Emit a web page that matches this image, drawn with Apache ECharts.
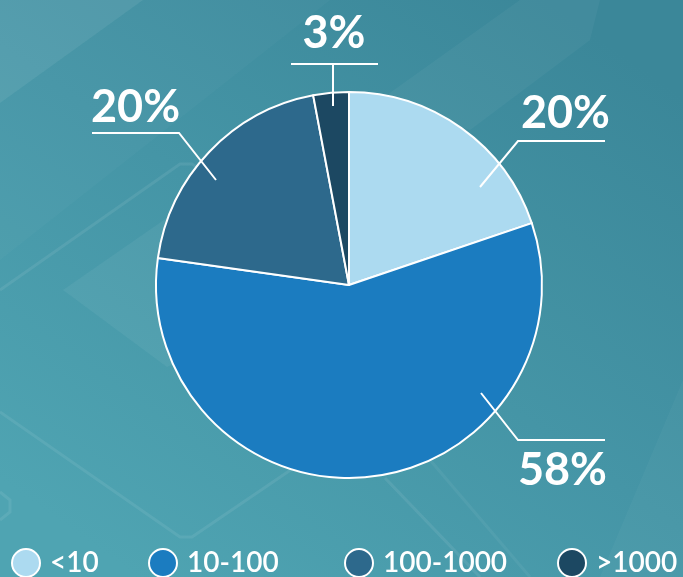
<!DOCTYPE html>
<html>
<head>
<meta charset="utf-8">
<script src="https://cdn.jsdelivr.net/npm/echarts@6/dist/echarts.min.js"></script>
<style>
html,body{margin:0;padding:0;}
#chart{width:683px;height:577px;}
</style>
</head>
<body>
<div id="chart"></div>
<script>
// ---- data ----
const categories = ['<10', '10-100', '100-1000', '>1000'];
const shares = [20, 58, 20, 3];            // percent, as printed on the chart
const sliceColors = ['#acdaf0', '#1b7cc0', '#2d698c', '#1c4862'];

// ---- layout (not data) ----
const CX = 349, CY = 285, R = 193;
// label guide geometry, offsets from pie centre (px)
const guides = [
  { start: [131, -98],  bend: [169, -144], end: [256, -144], text: [261, -149], align: 'right', va: 'bottom' },
  { start: [132, 108],  bend: [169, 155],  end: [256, 155],  text: [258, 163],  align: 'right', va: 'top' },
  { start: [-133, -105], bend: [-170, -152], end: [-257, -152], text: [-258, -155], align: 'left', va: 'bottom' },
  { start: [-16, -179], bend: [-16, -221], end: [-58, -221], end2: [29, -221], text: [-15, -229], align: 'center', va: 'bottom' }
];
const legendLefts = [11, 148, 344, 557];

const chart = echarts.init(document.getElementById('chart'), null, { renderer: 'canvas' });

const pieData = categories.map((c, i) => ({
  name: c,
  value: shares[i],
  itemStyle: { color: sliceColors[i] }
}));

function P(o) { return [CX + o[0], CY + o[1]]; }

const legends = categories.map((c, i) => ({
  data: [c],
  left: legendLefts[i],
  top: 548,
  padding: 0,
  orient: 'horizontal',
  icon: 'circle',
  itemWidth: 28,
  itemHeight: 28,
  itemStyle: { borderColor: '#ffffff', borderWidth: 2 },
  textStyle: { color: '#ffffff', fontSize: 28, fontWeight: 600, fontFamily: 'Lato', padding: [0, 0, 0, 5] },
  selectedMode: false
}));

// label guide lines drawn on top of the slices
const guideLines = guides.map(g => {
  const pts = [P(g.start), P(g.bend), P(g.end)];
  if (g.end2) pts.push(P(g.end2));
  return {
    type: 'polyline', silent: true, z: 100,
    shape: { points: pts },
    style: { stroke: '#ffffff', lineWidth: 2, fill: 'none' }
  };
});

const faint = 'rgba(255,255,255,0.08)';
const decorations = [
  { type: 'polygon', silent: true, z: -10,
    shape: { points: [[0, 0], [143, 0], [0, 103]] },
    style: { fill: 'rgba(255,255,255,0.09)' } },
  { type: 'polygon', silent: true, z: -10,
    shape: { points: [[143, 0], [330, 0], [0, 260], [0, 103]] },
    style: { fill: 'rgba(255,255,255,0.025)' } },
  { type: 'polygon', silent: true, z: -10,
    shape: { points: [[63, 290], [200, 195], [349, 285], [167, 367]] },
    style: { fill: 'rgba(255,255,255,0.05)' } },
  { type: 'polyline', silent: true, z: -10,
    shape: { points: [[0, 290], [180, 164], [192, 164], [270, 215]] },
    style: { stroke: faint, lineWidth: 3, fill: 'none' } },
  { type: 'polyline', silent: true, z: -10,
    shape: { points: [[0, 412], [180, 537], [192, 537], [320, 450]] },
    style: { stroke: faint, lineWidth: 3, fill: 'none' } },
  { type: 'polyline', silent: true, z: -10,
    shape: { points: [[0, 492], [10, 500], [10, 512], [0, 520]] },
    style: { stroke: faint, lineWidth: 3, fill: 'none' } },
  { type: 'polygon', silent: true, z: -10,
    shape: { points: [[380, 100], [520, 0], [600, 0], [590, 40], [470, 130]] },
    style: { fill: 'rgba(255,255,255,0.04)' } },
  { type: 'line', silent: true, z: -10,
    shape: { x1: 385, y1: 478, x2: 480, y2: 577 },
    style: { stroke: faint, lineWidth: 3 } },
  { type: 'line', silent: true, z: -10,
    shape: { x1: 430, y1: 460, x2: 530, y2: 577 },
    style: { stroke: 'rgba(255,255,255,0.05)', lineWidth: 3 } },
  { type: 'polygon', silent: true, z: -10,
    shape: { points: [[683, 380], [683, 577], [600, 577]] },
    style: { fill: 'rgba(255,255,255,0.03)' } }
];

const option = {
  backgroundColor: {
    type: 'linear', x: 0.8, y: 0, x2: 0.2, y2: 1,
    colorStops: [
      { offset: 0, color: '#3b8799' },
      { offset: 0.5, color: '#4595a6' },
      { offset: 1, color: '#4fa4b2' }
    ]
  },
  animation: false,
  graphic: decorations.concat(guideLines),
  legend: legends,
  series: [{
    type: 'pie',
    center: [CX, CY],
    radius: R,
    startAngle: 90,
    clockwise: true,
    data: pieData,
    itemStyle: { borderColor: '#ffffff', borderWidth: 2 },
    emphasis: { disabled: true },
    label: {
      show: true,
      position: 'outside',
      formatter: '{c}%',
      color: '#ffffff',
      fontSize: 45,
      fontWeight: 'bold',
      fontFamily: 'Lato'
    },
    labelLine: { show: false },
    labelLayout: function (params) {
      const g = guides[params.dataIndex];
      const t = P(g.text);
      return { x: t[0], y: t[1], align: g.align, verticalAlign: g.va };
    }
  }]
};
chart.setOption(option);
</script>
</body>
</html>
